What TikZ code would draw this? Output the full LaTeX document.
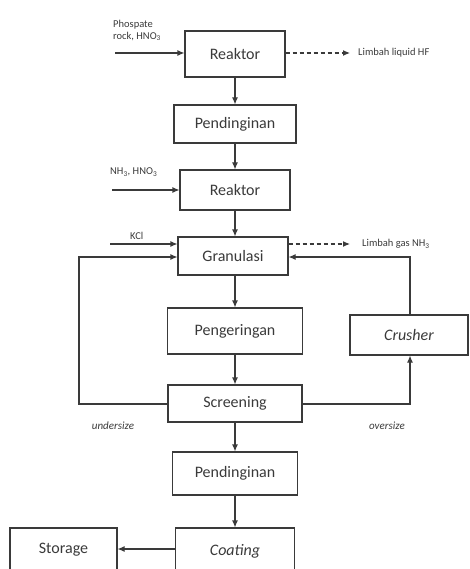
\documentclass[tikz,border=0pt]{standalone}
\usepackage{fontspec}
\setmainfont{Carlito}
\usetikzlibrary{arrows.meta}
\definecolor{ln}{HTML}{3A3A3A}
\definecolor{tx}{HTML}{3A3A3A}
\tikzset{
  box/.style={draw=ln, line width=1.1pt, minimum width=#1, inner sep=0pt, text=tx, font=\fontsize{16}{18}\selectfont},
  flow/.style={draw=ln, line width=1.1pt, -{Latex[length=7pt,width=6pt]}},
  waste/.style={flow, dashed, dash pattern=on 4pt off 3pt},
  lab/.style={text=tx, font=\fontsize{10.5}{12}\selectfont, inner sep=0pt},
  side/.style={text=tx, font=\fontsize{11}{13}\selectfont\itshape, inner sep=0pt}
}
\begin{document}
\begin{tikzpicture}[x=1pt,y=-1pt]
\useasboundingbox (0,0) rectangle (470,569);
% process boxes
\node[box=100pt, minimum height=46pt] (r1) at (235,54) {Reaktor};
\node[box=122pt, minimum height=38pt] (p1) at (235,124) {Pendinginan};
\node[box=110pt, minimum height=40pt] (r2) at (235,190) {Reaktor};
\node[box=110pt, minimum height=38pt] (g) at (233,256) {Granulasi};
\node[box=135pt, minimum height=46pt] (pe) at (235,331) {Pengeringan};
\node[box=118pt, minimum height=40pt] (cr) at (409,335) {\itshape Crusher};
\node[box=134pt, minimum height=37pt] (s) at (235,403.5) {Screening};
\node[box=125pt, minimum height=43pt] (p2) at (235,473.5) {Pendinginan};
\node[box=119pt, minimum height=44pt, text depth=0pt] (co) at (235,550) {\raisebox{1pt}{\itshape Coating}};
\node[box=107pt, minimum height=44pt] (st) at (63.5,550) {\raisebox{1pt}{Storage}};
% main line
\draw[flow] (r1) -- (p1);
\draw[flow] (p1) -- (r2);
\draw[flow] (r2) -- (g.north -| r2.south);
\draw[flow] (g.south -| pe.north) -- (pe);
\draw[flow] (pe) -- (s);
\draw[flow] (s) -- (p2);
\draw[flow] (p2) -- (co);
\draw[flow] (co.west |- 0,549) -- (st.east |- 0,549);
% inputs
\coordinate (in1) at (115,53);
\coordinate (in2) at (112,190);
\coordinate (in3) at (110,244);
\draw[flow] (in1) -- (in1 -| r1.west);
\draw[flow] (in2) -- (in2 -| r2.west);
\draw[flow] (in3) -- (in3 -| g.west);
\node[lab, anchor=south west, align=left] (l1) at (113,41) {Phospate\\rock, HNO\textsubscript{3}};
\node[lab, anchor=west] (l2) at (110,172) {NH\textsubscript{3}, HNO\textsubscript{3}};
\node[lab, anchor=west] (l3) at (130,236) {KCl};
% wastes
\coordinate (w1) at (350,53);
\coordinate (w2) at (350,244);
\draw[waste] (w1 -| r1.east) -- (w1);
\draw[waste] (w2 -| g.east) -- (w2);
\node[lab, anchor=west] (lw1) at (358,53) {Limbah liquid HF};
\node[lab, anchor=west] (lw2) at (362,244) {Limbah gas NH\textsubscript{3}};
% recycle loops
\coordinate (ul) at (79,404);
\coordinate (ur) at (410,404);
\coordinate (gt) at (79,257);
\coordinate (ct) at (410,257);
\draw[flow] (s.west |- ul) -- (ul) -- (gt) -- (gt -| g.west);
\draw[flow] (s.east |- ur) -- (ur) -- (ur |- cr.south);
\draw[flow] (ct |- cr.north) -- (ct) -- (ct -| g.east);
\node[side] (us) at (113,426) {undersize};
\node[side] (os) at (387,426) {oversize};
\end{tikzpicture}
\end{document}
